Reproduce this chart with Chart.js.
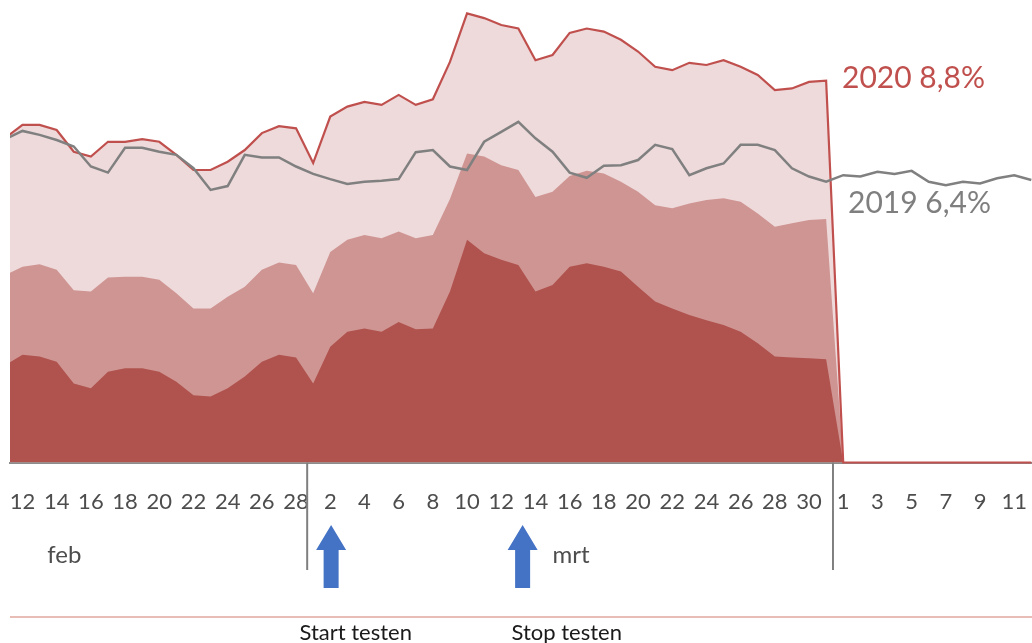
<!DOCTYPE html>
<html>
<head>
<meta charset="utf-8">
<script src="https://cdn.jsdelivr.net/npm/chart.js@4.4.1/dist/chart.umd.min.js"></script>
<style>
  body { margin: 0; background: #fff; }
  #wrap { width: 1032px; height: 643px; position: relative; }
</style>
</head>
<body>
<div id="wrap"><canvas id="chart"></canvas></div>
<script>
// day index: -1 = 11 feb, 0 = 12 feb ... 17 = 1 mrt ... 48 = 1 apr ... 59 = 12 apr
const firstIndex = -1;

const tickLabels = ["12","14","16","18","20","22","24","26","28",
  "2","4","6","8","10","12","14","16","18","20","22","24","26","28","30",
  "1","3","5","7","9","11"];

// 2020 total (top of light area)
const total2020 = [7.48,7.78,7.78,7.66,7.16,7.05,7.39,7.39,7.45,7.39,7.09,6.74,6.74,6.93,7.20,7.59,7.75,7.70,
  6.90,7.97,8.20,8.31,8.24,8.47,8.24,8.37,9.23,10.35,10.24,10.08,10.00,9.27,9.39,9.90,10.00,9.93,9.74,9.47,
  9.12,9.04,9.21,9.16,9.27,9.12,8.93,8.58,8.62,8.77,8.80,
  0,0,0,0,0,0,0,0,0,0,0,0];
// top of middle band
const middle2020 = [4.32,4.51,4.57,4.44,3.97,3.94,4.26,4.28,4.28,4.21,3.90,3.55,3.55,3.82,4.05,4.44,4.61,4.55,
  3.90,4.85,5.13,5.24,5.17,5.32,5.17,5.24,6.07,7.12,7.05,6.85,6.74,6.12,6.24,6.60,6.72,6.66,6.47,6.24,
  5.93,5.86,5.97,6.05,6.09,6.01,5.74,5.43,5.51,5.59,5.61,
  0,0,0,0,0,0,0,0,0,0,0,0];
// bottom band
const bottom2020 = [2.25,2.48,2.44,2.32,1.82,1.71,2.09,2.17,2.17,2.09,1.86,1.55,1.52,1.71,1.98,2.32,2.48,2.42,
  1.82,2.67,3.01,3.09,3.01,3.24,3.07,3.09,3.94,5.13,4.82,4.67,4.55,3.94,4.09,4.51,4.59,4.51,4.40,4.05,
  3.71,3.55,3.40,3.28,3.17,3.01,2.75,2.44,2.42,2.40,2.38,
  0,0,0,0,0,0,0,0,0,0,0,0];
// 2019 line
const line2019 = [7.45,7.64,7.55,7.43,7.28,6.82,6.68,7.25,7.25,7.16,7.09,6.78,6.28,6.37,7.09,7.03,7.03,6.82,
  6.65,6.53,6.42,6.47,6.49,6.53,7.15,7.20,6.82,6.74,7.39,7.62,7.85,7.47,7.16,6.68,6.56,6.84,6.85,6.97,
  7.32,7.22,6.62,6.78,6.89,7.32,7.32,7.20,6.78,6.59,6.47,6.62,6.59,6.70,6.65,6.72,6.47,6.39,6.47,6.43,
  6.55,6.62,6.51];

const monthSeparators = [16.65, 47.4];
const monthLabels = [{ text: "feb", at: 1.45 }, { text: "mrt", at: 31.0 }];
const arrowDays = [18.05, 29.25];
const notes = [{ text: "Start testen", at: 16.2 }, { text: "Stop testen", at: 28.6 }];

const toPoints = arr => arr.map((v, k) => ({ x: k + firstIndex, y: v }));

const font = "Lato, 'Open Sans', sans-serif";

const extras = {
  id: "extras",
  afterDraw(chart) {
    const ctx = chart.ctx;
    const xs = chart.scales.x;
    const base = chart.chartArea.bottom;
    ctx.save();

    // month separators
    ctx.strokeStyle = "#7f7f7f";
    ctx.lineWidth = 2;
    monthSeparators.forEach(v => {
      const x = xs.getPixelForValue(v);
      ctx.beginPath();
      ctx.moveTo(x, base);
      ctx.lineTo(x, 570);
      ctx.stroke();
    });

    // month names
    ctx.fillStyle = "#4d4d4d";
    ctx.font = "24px " + font;
    ctx.textBaseline = "middle";
    ctx.textAlign = "left";
    monthLabels.forEach(m => ctx.fillText(m.text, xs.getPixelForValue(m.at), 555));

    // blue arrows
    ctx.fillStyle = "#4472c4";
    arrowDays.forEach(v => {
      const cx = xs.getPixelForValue(v);
      ctx.beginPath();
      ctx.moveTo(cx, 525);
      ctx.lineTo(cx + 15, 550);
      ctx.lineTo(cx + 7.5, 550);
      ctx.lineTo(cx + 7.5, 588);
      ctx.lineTo(cx - 7.5, 588);
      ctx.lineTo(cx - 7.5, 550);
      ctx.lineTo(cx - 15, 550);
      ctx.closePath();
      ctx.fill();
    });

    // pink rule
    ctx.strokeStyle = "#e8bdb6";
    ctx.lineWidth = 2;
    ctx.beginPath();
    ctx.moveTo(chart.chartArea.left, 617);
    ctx.lineTo(chart.chartArea.right, 617);
    ctx.stroke();

    // notes under the rule
    ctx.fillStyle = "#1a1a1a";
    ctx.font = "22px " + font;
    notes.forEach(n => ctx.fillText(n.text, xs.getPixelForValue(n.at), 633));

    // series labels
    ctx.font = "30px " + font;
    ctx.fillStyle = "#c0504d";
    ctx.fillText("2020 8,8%", 842, 78);
    ctx.fillStyle = "#7f7f7f";
    ctx.fillText("2019 6,4%", 848, 203);

    ctx.restore();
  }
};

new Chart(document.getElementById("chart"), {
  type: "line",
  data: {
    datasets: [
      { label: "2019", data: toPoints(line2019), borderColor: "#808080", borderWidth: 2.5, fill: false },
      { label: "2020", data: toPoints(total2020), borderColor: "#c0504d", borderWidth: 2.2, fill: false,
        clip: { left: 0, top: 5, right: 0, bottom: 5 } },
      { label: "laag", data: toPoints(bottom2020), borderWidth: 0, backgroundColor: "#b0534e", fill: "origin" },
      { label: "midden", data: toPoints(middle2020), borderWidth: 0, backgroundColor: "#cf9593", fill: "origin" },
      { label: "totaal", data: toPoints(total2020), borderWidth: 0, backgroundColor: "#eedadb", fill: "origin" }
    ]
  },
  options: {
    responsive: true,
    maintainAspectRatio: false,
    animation: false,
    layout: { padding: { left: 10, right: 0, top: 0, bottom: 0 } },
    elements: { point: { radius: 0 }, line: { tension: 0 } },
    plugins: { legend: { display: false }, tooltip: { enabled: false } },
    scales: {
      x: {
        type: "linear",
        min: -0.73,
        max: 59.04,
        grid: { display: false, drawTicks: false },
        border: { display: true, color: "#8c8c8c", width: 2 },
        afterBuildTicks: s => { s.ticks = tickLabels.map((t, k) => ({ value: k * 2 })); },
        afterFit: s => { s.height = 180.5; s.paddingLeft = 0; s.paddingRight = 0; },
        ticks: {
          autoSkip: false,
          maxRotation: 0,
          padding: 26,
          color: "#4d4d4d",
          font: { family: font, size: 22 },
          callback: (v, k) => tickLabels[k]
        }
      },
      y: { display: false, min: 0, max: 10.657 }
    }
  },
  plugins: [extras]
});
</script>
</body>
</html>
